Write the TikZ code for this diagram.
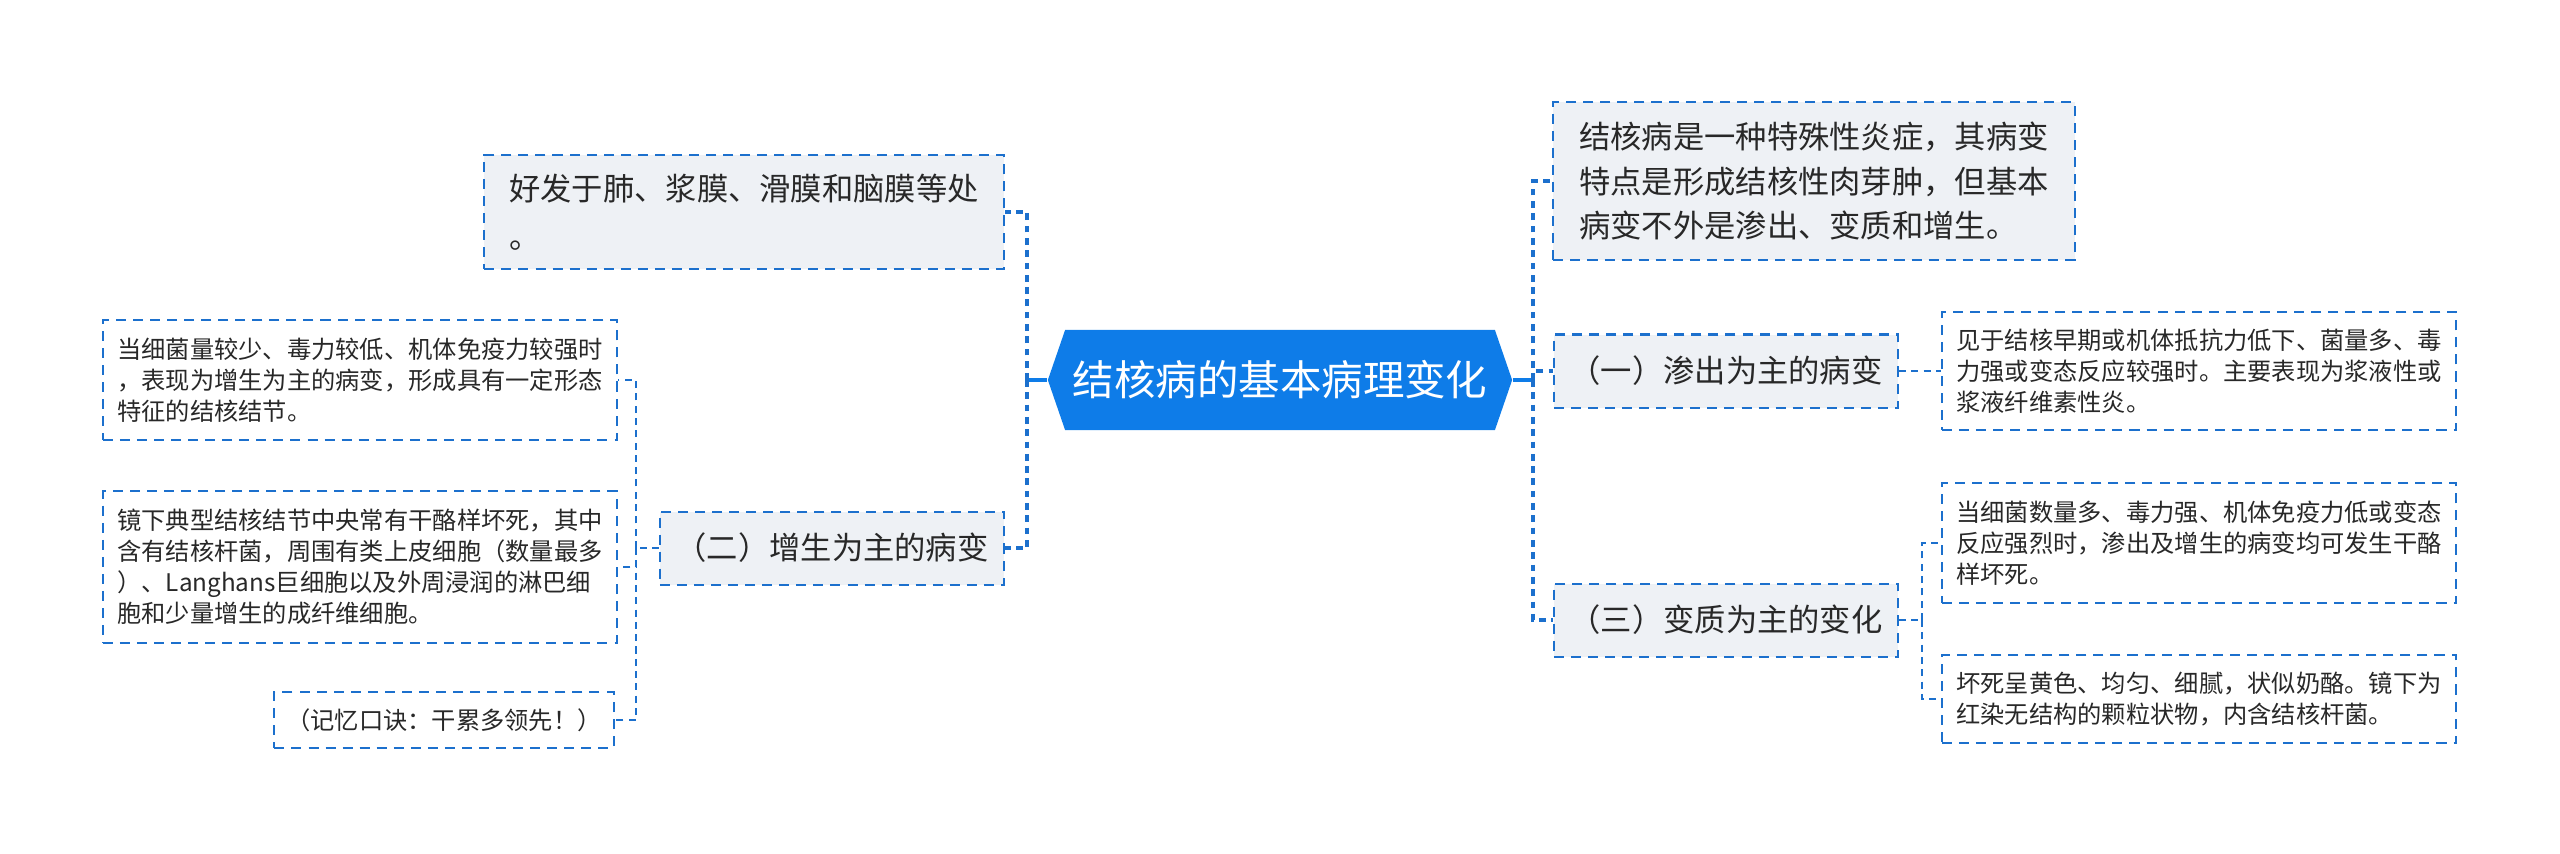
\documentclass[tikz,border=0pt]{standalone}
\usepackage{fontspec}
\setmainfont{Noto Sans CJK SC}
\usetikzlibrary{shapes.symbols}
\definecolor{rootblue}{RGB}{14,124,232}
\definecolor{linkblue}{RGB}{28,112,205}
\definecolor{boxgrey}{RGB}{238,241,245}
\definecolor{inkgrey}{RGB}{40,40,40}
\tikzset{
  root/.style={
    shape = signal,
    signal to = west and east,
    signal pointer angle = 142,
    fill = rootblue,
    text = white,
    inner sep = 0,
    minimum width = 4.64cm,
    minimum height = 1cm,
    font = \fontsize{11.8}{14}\selectfont
  },
  desc/.style={
    draw = linkblue,
    line width = 0.57pt,
    dash pattern = on 2.85pt off 2pt,
    fill = boxgrey,
    text = inkgrey,
    align = left,
    inner sep = 0,
    font = \fontsize{8.9}{12.6}\selectfont
  },
  branch/.style={
    desc,
    align = center,
    minimum width = 3.44cm,
    minimum height = 0.73cm
  },
  leaf/.style={
    desc,
    fill = white,
    minimum width = 5.14cm,
    font = \fontsize{6.9}{8.8}\selectfont
  },
  stem/.style={draw = rootblue, line width = 0.95pt},
  trunk/.style={draw = linkblue, line width = 0.95pt, dash pattern = on 1.9pt off 1.6pt},
  twig/.style={draw = linkblue, line width = 0.57pt, dash pattern = on 2pt off 1.5pt}
}
\begin{document}
\begin{tikzpicture}[x=0.01cm,y=-0.01cm]
    \useasboundingbox (0,0) rectangle (2560,853);
    \node[root] (r) at (1280,380) {结核病的基本病理变化};
    % left half
    \node[desc,minimum width=5.19cm,minimum height=1.14cm] (d1) at (744,212)
        {好发于肺、浆膜、滑膜和脑膜等处\\[1.2pt]。};
    \node[branch] (b2) at (832,548) {（二）增生为主的病变};
    \node[leaf,minimum height=1.2cm] (l1) at (360,380)
        {当细菌量较少、毒力较低、机体免疫力较强时\\，表现为增生为主的病变，形成具有一定形态\\特征的结核结节。};
    \node[leaf,minimum height=1.51cm] (l2) at (360,567)
        {镜下典型结核结节中央常有干酪样坏死，其中\\含有结核杆菌，周围有类上皮细胞（数量最多\\）、Langhans巨细胞以及外周浸润的淋巴细\\胞和少量增生的成纤维细胞。};
    \node[leaf,minimum width=3.39cm,minimum height=0.56cm] (l3) at (444,720)
        {（记忆口诀：干累多领先！）};
    % right half
    \node[desc,minimum width=5.21cm,minimum height=1.57cm] (d2) at (1814,181)
        {结核病是一种特殊性炎症，其病变\\特点是形成结核性肉芽肿，但基本\\病变不外是渗出、变质和增生。};
    \node[branch] (b1) at (1726,371) {（一）渗出为主的病变};
    \node[branch] (b3) at (1726,620) {（三）变质为主的变化};
    \node[leaf,minimum height=1.18cm] (l4) at (2199,371)
        {见于结核早期或机体抵抗力低下、菌量多、毒\\力强或变态反应较强时。主要表现为浆液性或\\浆液纤维素性炎。};
    \node[leaf,minimum height=1.2cm] (l5) at (2199,543)
        {当细菌数量多、毒力强、机体免疫力低或变态\\反应强烈时，渗出及增生的病变均可发生干酪\\样坏死。};
    \node[leaf,minimum height=0.88cm] (l6) at (2199,699)
        {坏死呈黄色、均匀、细腻，状似奶酪。镜下为\\红染无结构的颗粒状物，内含结核杆菌。};

    \draw[stem] (r.west) -- ++(-20,0) coordinate (jl);
    \foreach \n in {d1,b2}
        \draw[trunk] (jl) |- (\n.east);
    \draw[twig] (b2.west) -- ++(-23,0) coordinate (jg);
    \foreach \n in {l1,l2,l3}
        \draw[twig] (jg) |- (\n.east);

    \draw[stem] (r.east) -- ++(20,0) coordinate (jr);
    \foreach \n in {d2,b1,b3}
        \draw[trunk] (jr) |- (\n.west);
    \draw[twig] (b1.east) -- (l4.west);
    \draw[twig] (b3.east) -- ++(23,0) coordinate (jb);
    \foreach \n in {l5,l6}
        \draw[twig] (jb) |- (\n.west);
\end{tikzpicture}
\end{document}
